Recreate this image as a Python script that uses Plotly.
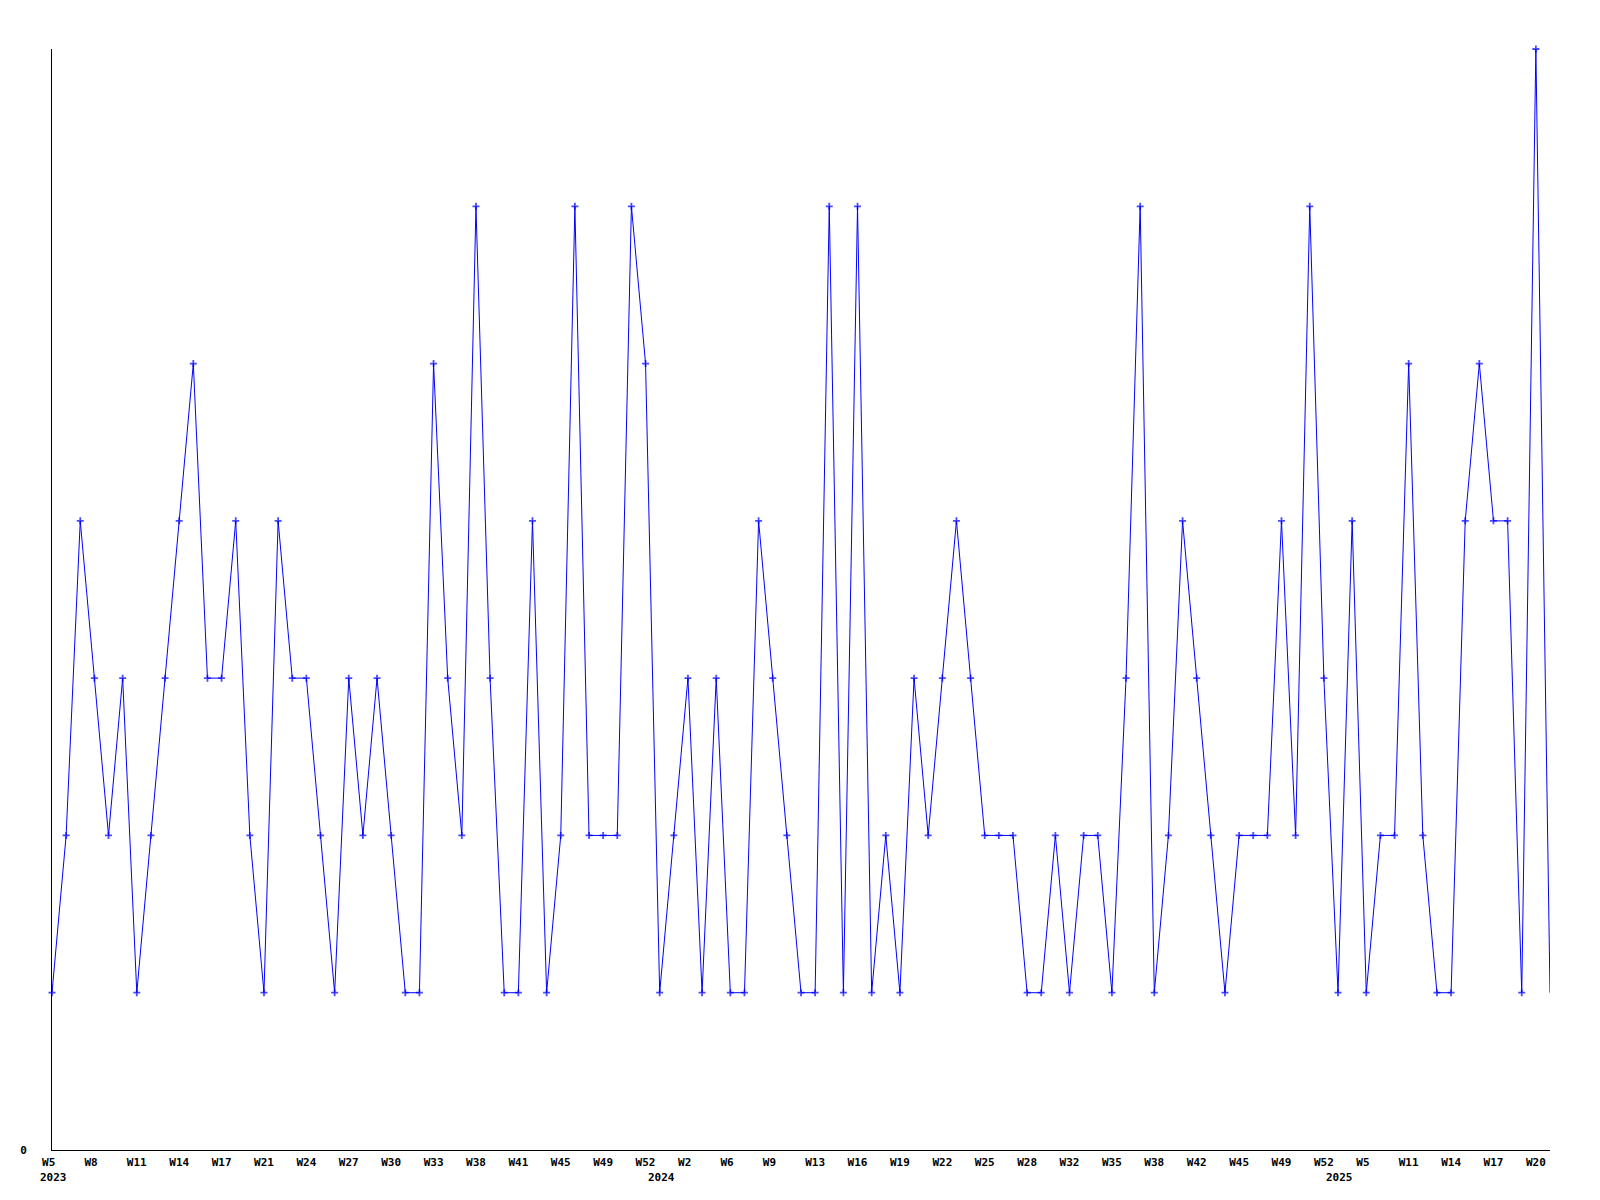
import plotly.graph_objects as go

# Week categories (year-week), one per data point
weeks_2023 = [5, 6, 7, 8, 9, 10, 11, 12, 13, 14, 15, 16, 17, 18, 19, 21, 22, 23, 24, 25,
              26, 27, 28, 29, 30, 31, 32, 33, 35, 36, 38, 39, 40, 41, 42, 43, 45, 46, 47,
              49, 50, 51, 52]
weeks_2024 = [0, 1, 2, 3, 4, 6, 7, 8, 9, 10, 12, 13, 14, 15, 16, 17, 18, 19, 20, 21, 22,
              23, 24, 25, 26, 27, 28, 29, 31, 32, 33, 34, 35, 36, 37, 38, 39, 41, 42, 43,
              44, 45, 46, 48, 49, 50, 51, 52]
weeks_2025 = [0, 2, 5, 6, 8, 11, 12, 13, 14, 15, 16, 17, 18, 19, 20, 21]

values = [1, 2, 4, 3, 2, 3, 1, 2, 3, 4, 5, 3, 3, 4, 2, 1, 4, 3, 3, 2, 1, 3, 2, 3, 2, 1, 1, 5, 3,
          2, 6, 3, 1, 1, 4, 1, 2, 6, 2, 2, 2, 6, 5, 1, 2, 3, 1, 3, 1, 1, 4, 3, 2, 1, 1, 6,
          1, 6, 1, 2, 1, 3, 2, 3, 4, 3, 2, 2, 2, 1, 1, 2, 1, 2, 2, 1, 3, 6, 1, 2, 4, 3, 2, 1,
          2, 2, 2, 4, 2, 6, 3, 1, 4, 1, 2, 2, 5, 2, 1, 1, 4, 5, 4, 4, 1, 7, 1]

years = ["2023", "2024", "2025"]

categories = ([f"2023-W{w:02d}" for w in weeks_2023] +
              [f"2024-W{w:02d}" for w in weeks_2024] +
              [f"2025-W{w:02d}" for w in weeks_2025])

tick_vals = categories[::3]
tick_labels = ["W" + str(int(c.split("-W")[1])) for c in tick_vals]
tick_labels = [t if len(t) >= 3 else t + "\u00a0" for t in tick_labels]

year_first = [next(c for c in categories if c.startswith(y)) for y in years]

n = len(values)
sizes = [5] * (n - 1) + [0]

FONT = "DejaVu Sans Mono"

fig = go.Figure()
fig.add_trace(go.Scatter(
    x=categories, y=values, mode="lines+markers",
    line=dict(color="#0000ff", width=1),
    marker=dict(symbol="cross-thin", size=sizes, color="#0000ff",
                line=dict(color="#0000ff", width=1.8)),
    showlegend=False, cliponaxis=False,
))

for y, c in zip(years, year_first):
    fig.add_annotation(x=c, xref="x", y=0, yref="paper", text=y, showarrow=False,
                       xanchor="left", xshift=-14, yanchor="middle", yshift=-27,
                       font=dict(family=FONT, size=11, color="black", weight="bold"))

fig.update_layout(
    width=1584, height=1184,
    margin=dict(l=42, r=42, t=41, b=42),
    paper_bgcolor="white", plot_bgcolor="white",
    font=dict(family=FONT, size=11, color="black", weight="bold"),
)
fig.update_xaxes(
    type="category", categoryorder="array", categoryarray=categories,
    range=[0, n - 1], tickmode="array", tickvals=tick_vals, ticktext=tick_labels,
    showline=True, linecolor="black", linewidth=1, showgrid=False, zeroline=False,
    ticks="", tickangle=0, ticklabelstandoff=2,
    tickfont=dict(family=FONT, size=11, color="black", weight="bold"),
)
fig.update_yaxes(
    range=[0, 7], tickmode="array", tickvals=[0], ticktext=["0"],
    showline=True, linecolor="black", linewidth=1, showgrid=False, zeroline=False,
    ticks="", ticklabelstandoff=22,
    tickfont=dict(family=FONT, size=11, color="black", weight="bold"),
)

fig.write_html("out.html")
